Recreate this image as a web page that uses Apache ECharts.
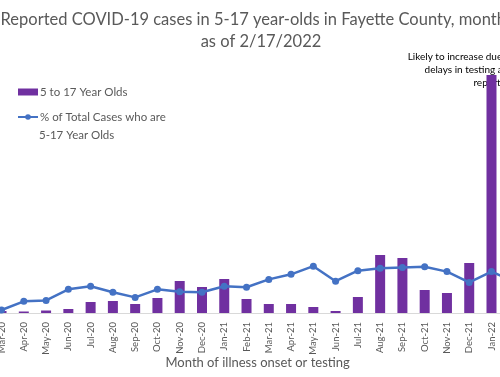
<!DOCTYPE html>
<html>
<head>
<meta charset="utf-8">
<script src="https://cdn.jsdelivr.net/npm/echarts@6/dist/echarts.min.js"></script>
<style>
html, body { margin: 0; padding: 0; background: #fff; }
#chart { width: 500px; height: 377px; }
</style>
</head>
<body>
<div id="chart"></div>
<script>
// months of illness onset or testing
const months = ['Mar-20', 'Apr-20', 'May-20', 'Jun-20', 'Jul-20', 'Aug-20', 'Sep-20', 'Oct-20', 'Nov-20', 'Dec-20',
  'Jan-21', 'Feb-21', 'Mar-21', 'Apr-21', 'May-21', 'Jun-21', 'Jul-21', 'Aug-21', 'Sep-21', 'Oct-21', 'Nov-21', 'Dec-21',
  'Jan-22', 'Feb-22']
// cases among 5-17 year olds (estimated)
const cases = [20, 15, 25, 40, 110, 120, 90, 150, 320, 260,
  340, 140, 90, 90, 60, 20, 160, 580, 550, 230, 200, 500,
  2380, 600]
// % of total cases who are 5-17 (estimated)
const pct = [1.0, 3.9, 4.2, 7.9, 8.9, 6.9, 5.2, 7.9, 7.1, 6.9,
  8.9, 8.6, 11.2, 12.9, 15.6, 10.6, 14.1, 14.9, 15.2, 15.4, 13.8, 10.2,
  13.8, 10.5]

const barName = '5 to 17 Year Olds'
const lineName = '% of Total Cases who are 5-17 Year Olds'
const grey = '#595959'
const font = 'Lato'

let myChart = echarts.init(document.getElementById('chart'))
myChart.setOption({
  animation: false,
  textStyle: { fontFamily: font },
  // the chart is wider than the picture: first and last months are cut off
  grid: { left: -9.6, right: -24.9, top: 13, bottom: 64, outerBoundsMode: 'none', containLabel: false },
  legend: {
    orient: 'vertical',
    left: 17,
    top: 86,
    padding: 0,
    itemWidth: 20,
    itemHeight: 7,
    itemGap: 13,
    data: [
      { name: barName, icon: 'rect' },
      { name: lineName }
    ],
    formatter: function (name) {
      return name === lineName ? '% of Total Cases who are' : name
    },
    textStyle: { color: grey, fontSize: 11.5, fontFamily: font, padding: [0, 0, 0, -3] }
  },
  graphic: [
    {
      type: 'text', x: 261, y: 9,
      style: { text: 'Reported COVID-19 cases in 5-17 year-olds in Fayette County, monthly,\nas of 2/17/2022',
        textAlign: 'center', fill: grey, font: '16.5px ' + font, lineHeight: 22 }
    },
    {
      type: 'text', x: 514, y: 50,
      style: { text: 'Likely to increase due to\ndelays in testing and\nreporting', textAlign: 'right',
        fill: '#000', font: '10px ' + font, lineHeight: 13 }
    },
    {
      type: 'text', x: 39, y: 129,
      style: { text: '5-17 Year Olds', fill: grey, font: '11.5px ' + font }
    }
  ],
  xAxis: {
    type: 'category',
    data: months,
    boundaryGap: true,
    axisLine: { lineStyle: { color: '#d9d9d9' } },
    axisTick: { show: false },
    axisLabel: { rotate: 90, color: grey, fontSize: 9.5, margin: 9, interval: 0 },
    name: 'Month of illness onset or testing',
    nameLocation: 'middle',
    nameGap: 43,
    nameMoveOverlap: false,
    nameTextStyle: { color: grey, fontSize: 13 }
  },
  yAxis: [
    { type: 'value', min: 0, max: 3000, show: false, splitLine: { show: false } },
    { type: 'value', min: 0, max: 100, show: false, splitLine: { show: false } }
  ],
  series: [
    {
      name: barName,
      type: 'bar',
      data: cases,
      barWidth: 10,
      itemStyle: { color: '#7030A0' }
    },
    {
      name: lineName,
      type: 'line',
      yAxisIndex: 1,
      data: pct,
      symbol: 'circle',
      symbolSize: 7,
      lineStyle: { color: '#4472C4', width: 2.5 },
      itemStyle: { color: '#4472C4' }
    }
  ]
})
</script>
</body>
</html>
